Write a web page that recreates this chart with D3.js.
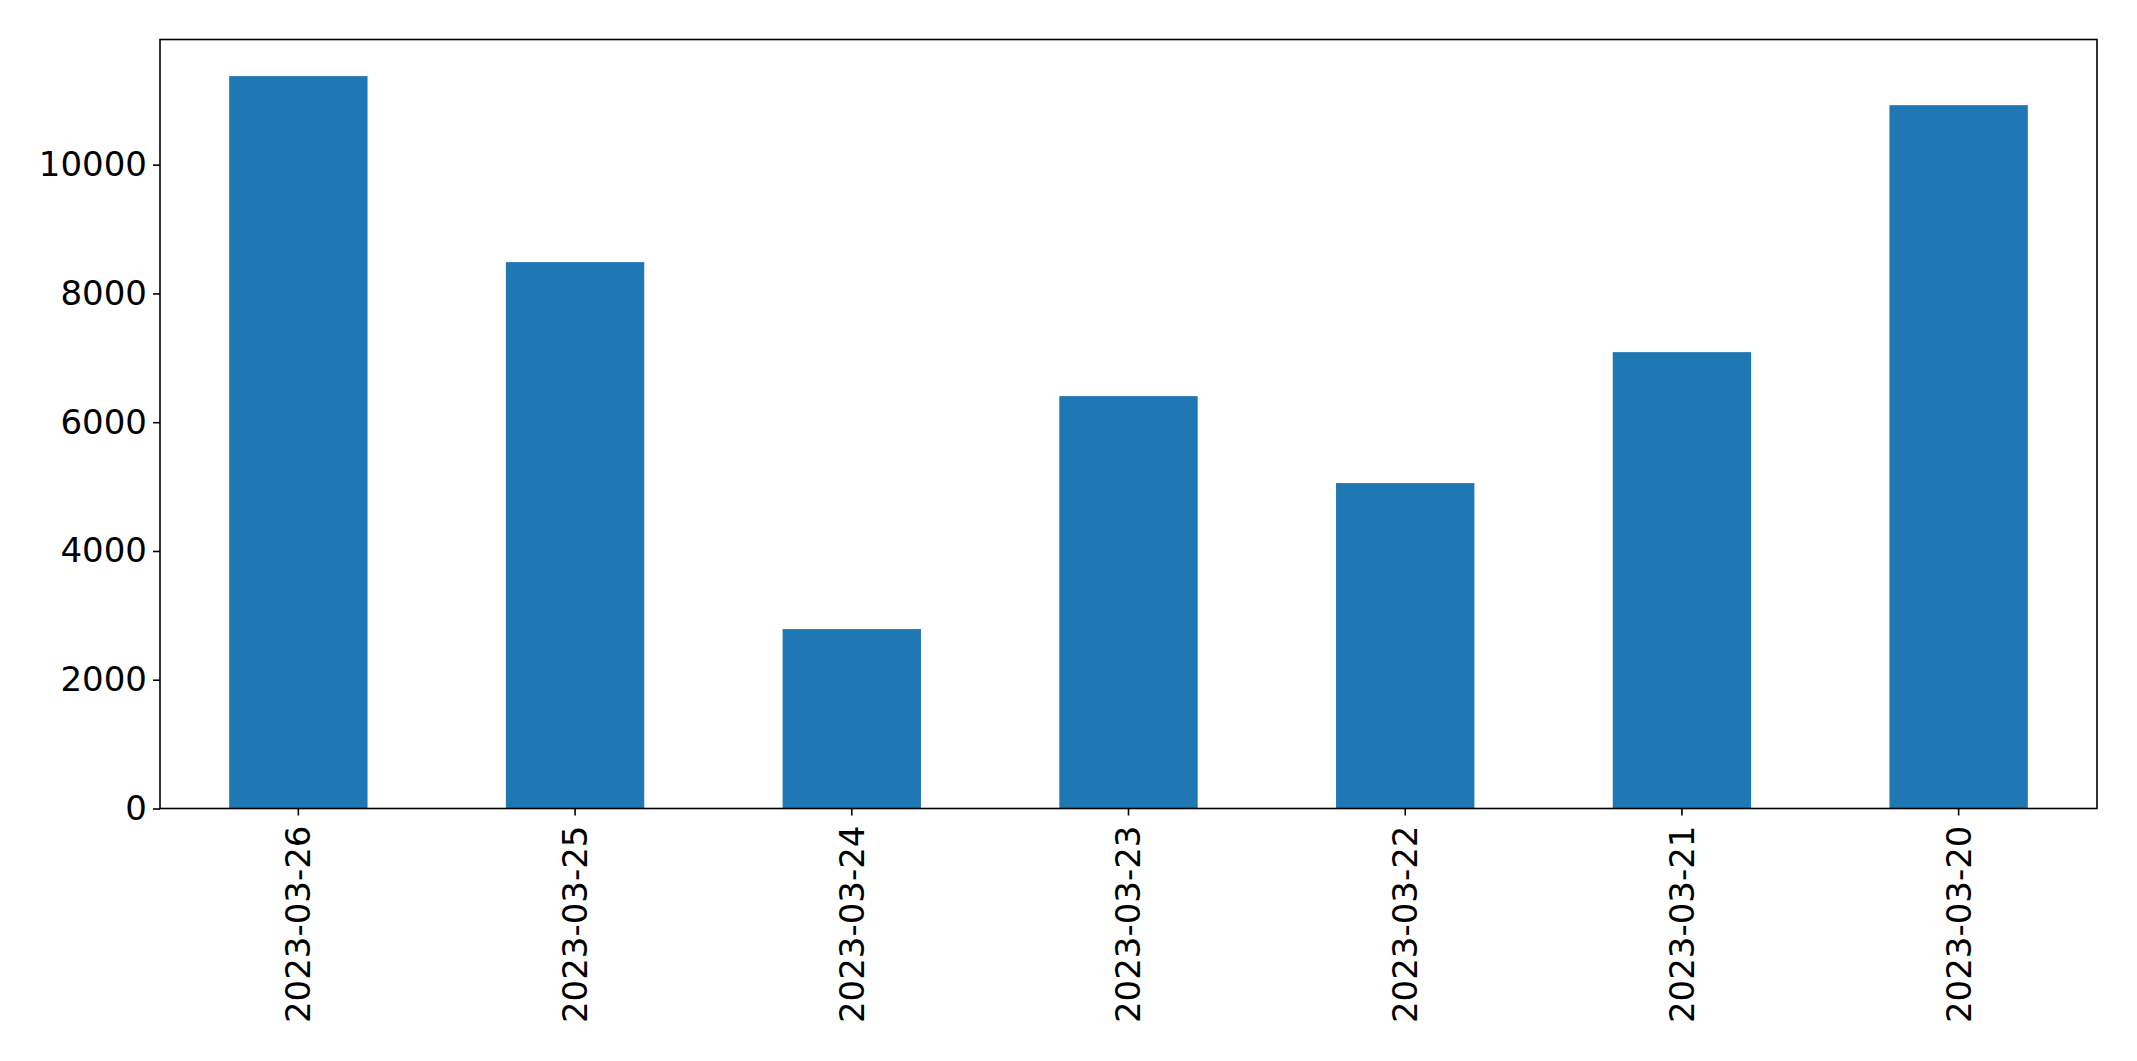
<!DOCTYPE html>
<html><head><meta charset="utf-8">
<script src="https://cdn.jsdelivr.net/npm/d3@7"></script>
<style>
html,body{margin:0;padding:0;background:#fff;}
svg{display:block;}
text{font-family:"DejaVu Sans",sans-serif;}
</style></head>
<body>
<svg id="chart" width="2137" height="1061"></svg>
<script>
const categories = ["2023-03-26","2023-03-25","2023-03-24","2023-03-23","2023-03-22","2023-03-21","2023-03-20"];
const values = [11375, 8486, 2787, 6405, 5054, 7088, 10924];
const yTicks = [0, 2000, 4000, 6000, 8000, 10000];

const W = 2137, H = 1061;
const m = {left:160, right:40, top:39.5, bottom:252.5};
const iw = W - m.left - m.right, ih = H - m.top - m.bottom;
const svg = d3.select("#chart");
const g = svg.append("g").attr("transform", `translate(${m.left},${m.top})`);

const x = d3.scaleBand().domain(categories).range([0, iw]).paddingInner(0.5).paddingOuter(0.25);
const y = d3.scaleLinear().domain([0, d3.max(values) * 1.05]).range([ih, 0]);

g.selectAll("rect.bar").data(categories).enter().append("rect")
  .attr("class","bar")
  .attr("x", d => x(d))
  .attr("width", x.bandwidth())
  .attr("y", (d,i) => y(values[i]))
  .attr("height", (d,i) => ih - y(values[i]))
  .attr("fill", "#1f77b4");

const yAxis = g.append("g").call(d3.axisLeft(y).tickValues(yTicks).tickFormat(d3.format("d")).tickSize(7).tickPadding(6));
const xAxis = g.append("g").attr("transform", `translate(0,${ih})`).call(d3.axisBottom(x).tickSize(7).tickPadding(10));

[yAxis, xAxis].forEach(a => {
  a.select(".domain").remove();
  a.selectAll(".tick line").attr("stroke","#000").attr("stroke-width",1.6);
  a.selectAll("text").attr("font-size","34px").attr("fill","#000").attr("font-family","DejaVu Sans");
});
xAxis.selectAll(".tick text")
  .attr("transform","rotate(-90)")
  .attr("text-anchor","end")
  .attr("dy","0.35em")
  .attr("x", -17)
  .attr("y", 0);

g.append("rect").attr("x",0).attr("y",0).attr("width",iw).attr("height",ih)
  .attr("fill","none").attr("stroke","#000").attr("stroke-width",1.6);
</script>
</body></html>
